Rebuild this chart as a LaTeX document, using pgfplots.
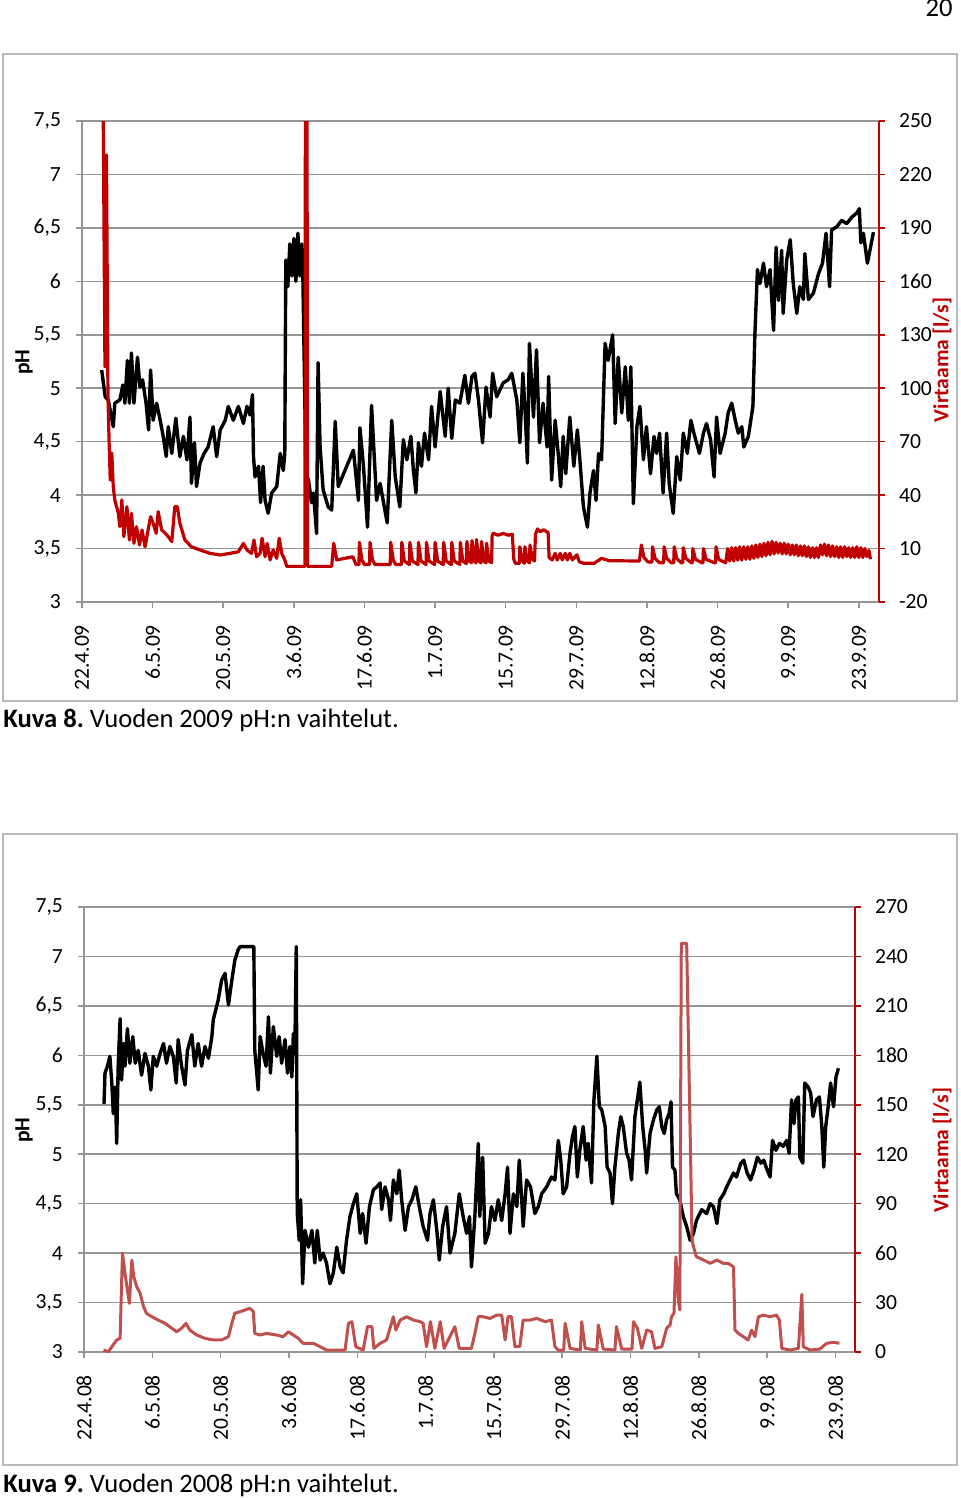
\documentclass[border=0pt]{standalone}
\usepackage{pgfplots}
\pgfplotsset{compat=1.18}
\usepackage{fontspec}
\setmainfont{Carlito}
\frenchspacing
\definecolor{flowred}{RGB}{192,0,0}
\definecolor{flowlight}{RGB}{192,80,77}
\definecolor{gridgray}{RGB}{150,150,150}
\definecolor{framegray}{RGB}{185,185,185}
\newcommand{\tickfont}{\fontsize{10.8}{12}\selectfont}
\newcommand{\capfont}{\fontsize{13.3}{15}\selectfont}

\pgfplotsset{
  phaxis/.style={
    scale only axis, anchor=south west,
    xmin=0, xmax=158, ymin=3, ymax=7.5,
    axis x line*=bottom, axis y line*=left,
    axis line style={gridgray, line width=0.75pt},
    tick align=outside, major tick length=3pt,
    tick style={gridgray, line width=0.75pt},
    ymajorgrids, grid style={gridgray, line width=0.75pt},
    ytick={3,3.5,4,4.5,5,5.5,6,6.5,7,7.5},
    yticklabels={3,{3,5},4,{4,5},5,{5,5},6,{6,5},7,{7,5}},
    xtick={0,14,28,42,56,70,84,98,112,126,140,154},
    tick label style={font=\tickfont},
    xticklabel style={rotate=90, anchor=east, xshift=-5pt},
    yticklabel style={xshift=-4pt},
  },
  flowaxis/.style={
    scale only axis, anchor=south west,
    xmin=0, xmax=158,
    axis x line=none, axis y line*=right, xtick=\empty,
    axis line style={flowred, line width=0.75pt},
    tick align=outside, major tick length=3pt,
    ytick style={flowred, line width=0.75pt},
    tick label style={font=\tickfont},
    yticklabel style={xshift=3.5pt},
  },
  phline/.style={black, line width=1.7pt, line join=round},
}

\begin{document}
\begin{tikzpicture}
\useasboundingbox (0,0) rectangle (480pt,-749pt);
\fill[white] (0,0) rectangle (480pt,-749pt);

\node[anchor=base east, inner sep=0pt, font=\capfont] at (476.5pt,-8.5pt) {20};

% ---------- Kuva 8 (2009) ----------
\draw[framegray, line width=0.75pt] (1.5pt,-27pt) rectangle (478.5pt,-350.5pt);

\begin{axis}[phaxis, at={(41pt,-301pt)}, width=398.5pt, height=240.5pt,
  xticklabels={22.4.09,6.5.09,20.5.09,3.6.09,17.6.09,1.7.09,15.7.09,29.7.09,12.8.09,26.8.09,9.9.09,23.9.09}]
\addplot[phline] coordinates {
(3.9,5.17) (4.6,4.92) (5.2,4.89) (6.2,4.64) (6.5,4.86) (7.5,4.89) (8.1,5.03) (8.5,4.86) (9.0,5.26) (9.4,4.86)
(9.8,5.33) (10.3,4.86) (11.0,5.29) (11.5,5.01) (12.0,5.08) (12.7,4.86) (13.2,4.61) (13.6,5.17) (14.1,4.70) (14.8,4.86)
(15.5,4.70) (16.1,4.55) (16.7,4.36) (17.1,4.64) (17.8,4.39) (18.6,4.72) (19.4,4.36) (20.1,4.55) (20.8,4.33) (21.4,4.73)
(21.7,4.11) (22.3,4.49) (22.7,4.08) (23.4,4.30) (24.2,4.39) (25.0,4.45) (26.0,4.64) (26.7,4.36) (27.4,4.61) (28.4,4.70)
(29.0,4.83) (30.0,4.70) (31.0,4.83) (32.0,4.67) (32.7,4.83) (33.3,4.75) (33.8,4.94) (34.0,4.36) (34.3,4.17) (35.0,4.27)
(35.4,3.93) (35.9,4.27) (36.3,3.95) (36.9,3.83) (37.6,4.02) (38.6,4.08) (39.3,4.39) (39.9,4.23) (40.2,4.39) (40.4,6.2)
(40.8,5.95) (41.2,6.35) (41.6,6.05) (42.0,6.4) (42.4,6.0) (42.8,6.45) (43.2,6.05) (43.6,6.35) (43.8,6.0) (44.4,4.2)
(44.9,4.14) (45.5,3.93) (45.9,4.02) (46.5,3.64) (46.8,5.24) (47.2,4.45) (47.8,4.05) (48.8,3.89) (49.5,3.86) (50.2,4.69)
(50.8,4.08) (53.8,4.42) (54.8,3.95) (55.1,4.63) (55.8,4.27) (56.6,3.70) (57.4,4.84) (58.4,3.95) (59.1,4.11) (59.7,3.95)
(60.5,3.74) (61.4,4.70) (62.1,4.17) (63.0,3.89) (63.7,4.52) (64.4,4.33) (65.2,4.55) (65.7,4.23) (66.2,4.02) (66.7,4.49)
(67.3,4.27) (67.9,4.58) (68.7,4.33) (69.3,4.83) (70.0,4.45) (71.0,4.97) (72.0,4.55) (72.6,5.0) (73.3,4.53) (74.0,4.89)
(74.9,4.86) (75.9,5.12) (76.6,4.86) (77.3,5.11) (77.9,5.14) (78.6,4.89) (79.4,4.49) (80.1,5.01) (80.9,4.73) (81.4,5.14)
(82.2,4.92) (83.5,5.05) (84.5,5.08) (85.2,5.14) (86.2,4.89) (86.8,4.49) (87.4,5.14) (87.8,4.83) (88.3,4.30) (88.7,5.42)
(89.5,4.73) (90.1,5.36) (90.7,4.49) (91.4,4.86) (92.2,4.45) (92.5,5.11) (93.1,4.14) (93.8,4.70) (94.4,4.39) (94.9,4.08)
(95.4,4.55) (95.9,4.20) (96.7,4.73) (97.5,4.27) (98.2,4.61) (98.7,4.33) (99.4,3.89) (100.2,3.70) (100.7,4.02) (101.4,4.23)
(101.9,3.95) (102.4,4.39) (103.0,4.33) (103.7,5.42) (104.3,5.26) (105.2,5.50) (105.7,4.67) (106.3,5.29) (107.0,4.77) (107.7,5.20)
(108.3,4.70) (108.8,5.20) (109.3,3.92) (110.0,4.64) (110.6,4.83) (111.3,4.33) (111.9,4.64) (112.7,4.20) (113.4,4.55) (113.9,4.39)
(114.5,4.58) (115.2,4.02) (115.9,4.58) (116.4,4.11) (117.2,3.83) (117.9,4.36) (118.6,4.14) (119.2,4.58) (120.0,4.39) (120.7,4.70)
(121.3,4.58) (122.4,4.39) (123.2,4.58) (123.8,4.67) (124.6,4.52) (125.3,4.17) (125.8,4.73) (126.5,4.39) (127.5,4.58) (128.1,4.77)
(128.8,4.86) (129.5,4.70) (130.1,4.58) (130.8,4.64) (131.2,4.45) (132.1,4.55) (133.0,4.83) (133.4,5.51) (133.9,6.11) (134.4,5.98)
(135.1,6.17) (135.7,5.95) (136.4,6.11) (137.1,5.54) (137.6,6.32) (138.1,5.82) (138.7,6.29) (139.0,5.70) (139.7,6.20) (140.4,6.39)
(141.0,5.98) (141.7,5.70) (142.3,5.95) (143.0,5.83) (143.3,6.26) (144.0,5.83) (145.0,5.89) (146.0,6.07) (146.8,6.17) (147.5,6.45)
(148.2,5.95) (148.6,6.48) (149.6,6.51) (150.6,6.57) (151.6,6.54) (152.6,6.60) (153.6,6.64) (154.1,6.68) (154.4,6.36) (154.9,6.45)
(155.7,6.17) (156.2,6.29) (156.9,6.46)
};
\end{axis}

\begin{axis}[flowaxis, at={(41pt,-301pt)}, width=398.5pt, height=240.5pt,
  ymin=-20, ymax=250, ytick={-20,10,40,70,100,130,160,190,220,250},
  yticklabels={-20,10,40,70,100,130,160,190,220,250}]
\addplot[flowred, line width=1.6pt, line join=round] coordinates {
(3.9,300) (4.1,300) (4.55,112) (4.85,231) (5.15,95) (5.4,67) (5.6,48.5) (5.9,63.6) (6.2,44.7) (6.5,37.3)
(7.2,29.8) (7.5,22.3) (7.9,37.3) (8.3,16.7) (8.9,33.5) (9.4,14.8) (9.8,29.8) (10.3,12.9) (10.8,22.3) (11.4,12.0)
(11.9,20.4) (12.5,11.0) (13.1,20.4) (13.6,27.9) (14.1,24.2) (14.7,18.6) (15.1,30.7) (15.8,20.4) (16.5,18.6) (17.1,16.7)
(17.8,13.9) (18.4,33.5) (18.9,33.5) (19.4,24.2) (20.4,14.8) (21.7,11.0) (23.4,9.2) (25.4,7.3) (27.4,6.4) (29.3,7.3)
(31.0,8.2) (32.0,12.9) (32.7,9.2) (33.6,7.3) (34.1,14.8) (34.6,5.4) (35.3,7.3) (35.7,15.8) (36.3,5.4) (36.7,12.9)
(37.3,3.6) (37.9,9.2) (38.6,4.5) (39.1,15.8) (39.6,7.3) (40.2,3.6) (40.6,0) (44.2,0) (44.3,300) (44.6,300)
(44.7,0) (49.5,0) (49.9,13) (50.5,3.6) (53.7,5.4) (54.3,1)
(54.9,1) (55.0,13.5) (55.5,3.5) (56.0,1) (57.0,1) (57.1,13.5) (57.6,3.5) (58.1,1) (61.1,1) (61.2,13.5)
(61.7,3.5) (62.2,1) (63.3,1) (63.4,13.5) (63.9,3) (64.9,1) (65.0,13.5) (65.5,3) (66.6,1) (66.7,13.5)
(67.2,3) (68.2,1) (68.3,13.5) (68.8,3) (69.9,1) (70.0,13.5) (70.5,3) (71.6,1) (71.7,13.5) (72.2,3)
(73.2,1) (73.3,13.5) (73.8,3) (74.9,1) (75.0,13.5) (75.5,3) (76.2,1.5) (76.3,14) (76.8,3) (77.2,2)
(77.3,14.5) (77.8,3) (78.1,2) (78.2,15) (78.7,3) (79.1,2) (79.2,14) (79.7,3) (80.1,2) (80.2,13)
(80.7,3) (81.2,2) (81.3,17) (81.5,18.6) (82.5,17.5) (83.5,18.5) (84.5,17.5) (85.3,18) (85.6,4) (85.9,1.7)
(86.7,1.7) (86.8,11) (87.3,3) (87.7,1.7) (87.8,11) (88.3,3) (88.7,2) (88.8,12) (89.3,4) (89.7,3)
(89.9,18) (90.3,21) (90.8,19.5) (91.5,20.5) (92.4,19) (92.6,5) (93.2,3.6) (93.8,7.3) (94.2,3.6) (94.8,7.3)
(95.2,3.6) (95.8,7.3) (96.2,3.6) (96.7,7.3) (97.2,3.6) (98.1,6.5) (98.6,2.5) (99.5,1.7) (101.5,1.7) (103.0,4.5)
(104.5,3.2) (110.5,3.0) (110.9,12) (111.4,5) (112.2,2.5) (113.0,2.5) (113.1,11) (113.6,4.5) (114.5,2) (115.3,2)
(115.4,11) (115.9,4.5) (116.8,2) (117.3,2) (117.4,11) (117.9,4.5) (118.8,2) (119.1,2) (119.2,10.5) (119.7,4.5)
(120.8,2) (121.0,2) (121.1,10) (121.6,4) (122.9,2) (123.1,2) (123.2,10) (123.7,4) (125.4,2) (125.6,2)
(125.7,11) (126.2,4) (127.2,2.5) (127.6,2) (128.0,10) (128.4,3) (128.8,10.5) (129.2,3) (129.6,10.5) (130.0,3.5)
(130.4,11) (130.8,3.5) (131.2,11) (131.6,4) (132.0,11) (132.4,4) (132.8,11.5) (133.2,4.5) (133.6,12) (134.0,5)
(134.4,12.5) (134.8,5.5) (135.2,13) (135.6,6) (136.0,13.5) (136.4,6.5) (136.8,14) (137.2,7) (137.6,13.5) (138.0,7.5)
(138.4,13) (138.8,7) (139.2,13) (139.6,7) (140.0,12.5) (140.4,6.5) (140.8,12) (141.2,6.5) (141.6,12) (142.0,6)
(142.4,11.5) (142.8,6) (143.2,11.5) (143.6,5.5) (144.0,11) (144.4,5) (144.8,10.5) (145.2,5) (145.6,10.5) (146.0,5)
(146.4,12) (146.8,6.5) (147.2,12.5) (147.6,6) (148.0,12) (148.4,5.5) (148.8,11.5) (149.2,5.5) (149.6,11) (150.0,5)
(150.4,11) (150.8,5) (151.2,11) (151.6,5.5) (152.0,10.5) (152.4,5) (152.8,10.5) (153.2,5) (153.6,11) (154.0,5)
(154.4,10.5) (154.8,5) (155.2,10) (155.6,5.5) (156.0,9) (156.3,4)
};
\end{axis}

\node[rotate=90, font=\bfseries\tickfont] at (12pt,-181pt) {pH};
\node[rotate=90, font=\bfseries\tickfont, text=flowred] at (471pt,-180pt) {Virtaama [l/s]};
\node[anchor=base west, inner sep=0pt, font=\capfont] at (1.5pt,-363.5pt) {\textbf{Kuva 8.} Vuoden 2009 pH:n vaihtelut.};

% ---------- Kuva 9 (2008) ----------
\draw[framegray, line width=0.75pt] (1.5pt,-417pt) rectangle (478.5pt,-732.5pt);

\begin{axis}[phaxis, at={(42pt,-676pt)}, width=385.5pt, height=222.5pt,
  xticklabels={22.4.08,6.5.08,20.5.08,3.6.08,17.6.08,1.7.08,15.7.08,29.7.08,12.8.08,26.8.08,9.9.08,23.9.08}]
\addplot[phline] coordinates {
(4.1,5.51) (4.3,5.82) (4.8,5.89) (5.3,5.99) (5.7,5.72) (6.0,5.41) (6.4,5.68) (6.7,5.11) (7.0,5.89) (7.4,6.37)
(7.7,5.75) (8.1,6.12) (8.4,5.89) (8.9,6.27) (9.4,5.92) (10.0,6.19) (10.5,5.92) (11.1,6.05) (11.8,5.80) (12.5,6.02)
(13.2,5.89) (13.7,5.65) (14.2,5.99) (14.9,5.89) (15.6,6.02) (16.3,6.12) (16.9,5.92) (17.6,6.09) (18.3,5.99) (18.9,5.72)
(19.3,6.16) (20.0,5.89) (20.7,5.70) (21.2,6.05) (22.1,6.21) (22.7,5.89) (23.4,6.12) (24.1,5.89) (24.8,6.09) (25.5,5.97)
(26.2,6.19) (26.5,6.36) (27.5,6.56) (28.2,6.76) (28.9,6.83) (29.6,6.51) (30.3,6.76) (30.9,6.96) (31.6,7.07) (32.0,7.1)
(34.8,7.1) (35.0,6.05) (35.7,5.65) (36.1,6.19) (36.7,6.02) (37.3,5.89) (37.8,6.39) (38.2,5.82) (38.8,6.29) (39.5,5.99)
(40.0,6.19) (40.5,5.92) (41.2,6.16) (41.7,5.82) (42.2,6.09) (42.6,5.78) (42.9,6.22) (43.2,6.02) (43.5,7.1) (43.7,4.40)
(44.1,4.13) (44.4,4.54) (44.8,3.69) (45.3,4.23) (46.0,4.06) (46.7,4.23) (47.3,3.90) (47.8,4.23) (48.4,3.93) (49.0,4.00)
(49.7,3.90) (50.4,3.69) (51.1,3.80) (51.8,4.06) (52.5,3.86) (53.1,3.80) (53.8,4.13) (54.5,4.37) (55.2,4.50) (55.9,4.60)
(56.6,4.20) (57.1,4.40) (57.8,4.10) (58.5,4.47) (59.3,4.64) (60.0,4.67) (60.7,4.71) (61.0,4.44) (61.7,4.67) (62.4,4.54)
(62.8,4.33) (63.4,4.74) (64.1,4.60) (64.6,4.84) (65.1,4.54) (65.8,4.23) (66.5,4.47) (67.2,4.54) (68.0,4.67) (68.7,4.47)
(69.5,4.27) (70.4,4.13) (70.9,4.40) (71.6,4.54) (72.3,4.23) (72.8,3.93) (73.5,4.27) (74.3,4.47) (75.0,4.00) (76.0,4.20)
(76.9,4.60) (77.7,4.37) (78.4,4.20) (79.0,4.37) (79.4,3.86) (80.1,4.37) (80.8,5.11) (81.1,4.37) (81.7,4.97) (82.2,4.10)
(82.9,4.20) (83.5,4.47) (84.2,4.33) (84.9,4.54) (85.6,4.33) (86.3,4.60) (86.8,4.87) (87.3,4.20) (88.0,4.60) (88.7,4.47)
(89.2,4.94) (89.7,4.54) (90.0,4.27) (90.7,4.74) (91.5,4.67) (92.4,4.40) (93.1,4.47) (93.8,4.60) (94.8,4.67) (95.8,4.77)
(96.5,4.74) (97.2,5.14) (97.7,4.94) (98.2,4.60) (98.9,4.67) (99.6,5.01) (100.1,5.18) (100.6,5.28) (101.1,4.77) (101.6,5.04)
(102.3,5.28) (102.9,4.94) (103.3,5.11) (104.0,4.71) (104.5,5.55) (105.1,5.99) (105.6,5.48) (106.1,5.45) (106.8,5.28) (107.2,4.87)
(107.8,4.81) (108.3,4.50) (108.8,4.87) (109.5,5.21) (110.0,5.38) (110.5,5.28) (111.2,5.01) (111.7,4.94) (112.2,4.74) (112.9,5.38)
(113.4,5.55) (113.9,5.73) (114.5,5.28) (115.0,5.04) (115.3,4.81) (116.0,5.21) (116.7,5.35) (117.4,5.45) (117.9,5.48) (118.4,5.28)
(118.9,5.21) (119.4,5.35) (119.9,5.41) (120.3,5.53) (120.6,4.87) (121.1,4.84) (121.4,4.60) (122.1,4.54) (122.8,4.37) (123.5,4.27)
(124.2,4.13) (124.9,4.20) (125.5,4.33) (126.6,4.44) (127.6,4.40) (128.3,4.50) (129.0,4.47) (129.7,4.30) (130.3,4.54) (131.1,4.60)
(131.7,4.67) (132.4,4.74) (133.1,4.81) (133.7,4.77) (134.6,4.91) (135.2,4.94) (135.9,4.81) (136.6,4.74) (137.3,4.84) (138.0,4.97)
(138.7,4.91) (139.3,4.94) (140.0,4.84) (140.6,4.77) (141.1,5.14) (141.8,5.04) (142.5,5.11) (143.3,5.08) (144.0,5.14) (144.5,5.01)
(145.0,5.55) (145.5,5.31) (145.9,5.55) (146.4,5.58) (146.7,4.97) (147.3,4.91) (147.7,5.72) (148.4,5.68) (148.9,5.62) (149.4,5.38)
(150.1,5.55) (150.7,5.58) (151.2,5.28) (151.6,4.87) (152.0,5.28) (152.5,5.48) (153.0,5.72) (153.6,5.48) (154.1,5.78) (154.6,5.87)
};
\end{axis}

\begin{axis}[flowaxis, at={(42pt,-676pt)}, width=385.5pt, height=222.5pt,
  ymin=0, ymax=270, ytick={0,30,60,90,120,150,180,210,240,270},
  yticklabels={0,30,60,90,120,150,180,210,240,270}]
\addplot[flowlight, line width=1.5pt, line join=round] coordinates {
(4.0,1.2) (5.0,0.2) (5.7,3.2) (6.7,7.3) (7.4,8.3) (7.7,41.7) (7.9,59.9) (8.4,47.7) (8.9,37.6) (9.3,29.5)
(9.8,55.8) (10.2,45.7) (10.8,39.6) (11.5,35.6) (12.2,27.5) (12.8,23.5) (13.9,21.4) (15.2,19.4) (16.6,17.4) (18.0,14.4)
(19.0,12.3) (20.0,14.4) (20.9,17.4) (21.7,13.3) (23.1,10.3) (24.8,8.3) (26.5,7.3) (28.2,7.3) (29.6,9.3) (30.3,17.4)
(30.9,23.5) (32.0,24.5) (33.0,25.5) (34.0,26.5) (34.7,24.5) (35.0,11.3) (36.1,10.3) (37.4,11.3) (39.5,10.3) (40.8,9.3)
(41.9,12.3) (42.9,10.3) (43.9,8.3) (44.9,5.3) (47.0,5.3) (48.4,3.2) (49.7,1.2) (53.5,1.2) (54.2,17.4) (54.9,18.4)
(55.7,3.2) (57.2,1.2) (58.1,15.4) (59.0,15.4) (59.4,2.2) (60.7,5.3) (62.0,7.3) (63.4,21.4) (63.9,13.3) (64.8,19.4)
(66.1,21.4) (67.5,19.4) (68.9,18.4) (69.5,17.4) (70.2,3.2) (71.0,18.4) (71.9,2.2) (73.0,18.4) (73.8,2.2) (76.0,15.4)
(76.9,2.2) (79.4,2.2) (80.1,11.3) (80.8,21.4) (81.8,21.4) (83.2,20.4) (84.6,22.4) (85.6,22.4) (86.3,7.3) (86.9,21.4)
(87.6,21.4) (88.3,3.2) (89.3,3.2) (90.0,19.4) (91.4,19.4) (92.8,20.4) (94.5,18.4) (95.8,19.4) (96.5,3.2) (97.2,1.2)
(98.3,1.2) (98.6,17.4) (99.6,2.2) (101.7,1.2) (102.0,18.4) (102.7,2.2) (105.1,1.2) (105.4,16.4) (106.4,1.8) (108.8,1.2)
(109.1,15.4) (110.2,1.8) (112.3,1.8) (112.6,18.4) (113.4,14.4) (114.3,2.2) (115.3,13.3) (116.3,12.3) (117.0,2.2) (118.4,3.2)
(119.4,14.4) (120.1,16.4) (120.4,21.4) (120.9,23.5) (121.3,57.8) (121.8,31.5) (122.1,25.5) (122.4,248) (123.5,248) (124.3,120)
(124.6,68) (124.9,63.9) (125.5,57.8) (127.0,55.8) (128.3,53.8) (129.7,55.8) (131.0,53.8) (132.0,53.8) (133.1,51.7) (133.4,13.3)
(134.1,11.3) (135.1,9.3) (136.1,7.3) (136.8,13.3) (137.5,9.3) (138.2,21.4) (139.2,22.4) (140.6,21.4) (141.9,22.4) (142.5,19.4)
(143.0,2.2) (144.7,1.2) (146.4,2.2) (147.1,35) (147.4,3.2) (148.8,1.2) (150.8,1.8) (152.2,5.3) (153.6,5.9) (154.8,5.3)
};
\end{axis}

\node[rotate=90, font=\bfseries\tickfont] at (12pt,-565pt) {pH};
\node[rotate=90, font=\bfseries\tickfont, text=flowred] at (471pt,-575pt) {Virtaama [l/s]};
\node[anchor=base west, inner sep=0pt, font=\capfont] at (1.5pt,-746pt) {\textbf{Kuva 9.} Vuoden 2008 pH:n vaihtelut.};
\end{tikzpicture}
\end{document}
